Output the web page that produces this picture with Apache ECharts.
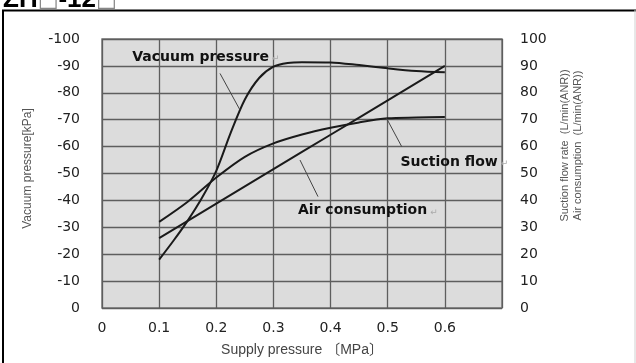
<!DOCTYPE html>
<html>
<head>
<meta charset="utf-8">
<script src="https://cdn.jsdelivr.net/npm/echarts@6/dist/echarts.min.js"></script>
<style>
  html, body { margin: 0; padding: 0; background: #ffffff; }
  #chart { width: 636px; height: 363px; }
</style>
</head>
<body>
<div id="chart"></div>
<script>
// Supply pressure (MPa) sample points for each curve
const vacuumX = [0.1, 0.125, 0.15, 0.175, 0.2, 0.225, 0.25, 0.275, 0.3, 0.325, 0.35, 0.4, 0.45, 0.5, 0.55, 0.6];
// Vacuum pressure (kPa, negative = vacuum)
const vacuumPressure = [-18, -25, -32.5, -41, -51, -65, -77.5, -85.5, -89.7, -91.1, -91.4, -91.3, -90.3, -89.1, -88.1, -87.6];

const flowX = [0.1, 0.15, 0.2, 0.25, 0.3, 0.35, 0.4, 0.45, 0.5, 0.55, 0.6];
// Suction flow rate (L/min(ANR))
const suctionFlow = [32, 39.5, 48.5, 56.2, 61.2, 64.5, 67, 69, 70.5, 70.8, 71];

const airX = [0.1, 0.2, 0.3, 0.4, 0.5, 0.6];
// Air consumption (L/min(ANR))
const airConsumption = [26, 38.8, 51.6, 64.4, 77.2, 90];

// Axis ranges / ticks
const xTicks = { min: 0, max: 0.7, step: 0.1, lastLabel: 0.6 };
const vacuumTicks = { min: -100, max: 0, step: 10 };
const flowTicks = { min: 0, max: 100, step: 10 };

const pairs = (xs, ys) => xs.map((x, i) => [x, ys[i]]);

const tickFont = 'DejaVu Sans';
const lineColor = '#1a1a1a';

const chart = echarts.init(document.getElementById('chart'), null, { renderer: 'canvas' });

const noteLabel = (text) => ({
  show: true,
  position: 'right',
  distance: 0,
  formatter: '{t|' + text + '}{r|\u21B5}',
  rich: {
    t: { fontFamily: 'DejaVu Sans', fontWeight: 'bold', fontSize: 14, color: '#111' },
    r: { fontFamily: 'DejaVu Sans', fontSize: 9, color: '#aaa', padding: [4, 0, 0, 3] }
  }
});

const leader = (a, b) => [{ coord: a }, { coord: b }];

const option = {
  animation: false,
  backgroundColor: '#ffffff',
  grid: {
    left: 102, top: 39, width: 400, height: 269,
    show: true,
    backgroundColor: '#dcdcdc',
    borderColor: '#7a7a7a',
    borderWidth: 1.5
  },
  xAxis: {
    type: 'value',
    min: xTicks.min, max: xTicks.max, interval: xTicks.step,
    axisLine: { show: false },
    axisTick: { show: false },
    splitLine: { show: true, lineStyle: { color: '#5e5e5e', width: 1.3 } },
    axisLabel: {
      margin: 13,
      fontFamily: tickFont, fontSize: 14, color: '#222',
      formatter: v => (v > xTicks.lastLabel + 0.05 ? '' : String(+v.toFixed(1)))
    },
    name: 'Supply pressure \u3014MPa\u3015',
    nameLocation: 'middle',
    nameGap: 35,
    nameTextStyle: { fontFamily: 'Liberation Sans, Noto Sans CJK JP', fontSize: 14, color: '#444' }
  },
  yAxis: [
    {
      type: 'value',
      position: 'left',
      min: vacuumTicks.min, max: vacuumTicks.max, interval: vacuumTicks.step,
      inverse: true,
      axisLine: { show: false },
      axisTick: { show: false },
      splitLine: { show: true, lineStyle: { color: '#5e5e5e', width: 1.3 } },
      axisLabel: { margin: 22, fontFamily: tickFont, fontSize: 14, color: '#222' },
      name: 'Vacuum pressure[kPa]',
      nameLocation: 'middle',
      nameRotate: 90,
      nameGap: 68,
      nameTextStyle: { fontFamily: 'Liberation Sans', fontSize: 12, color: '#555', padding: [0, 0, 0, 10] }
    },
    {
      type: 'value',
      position: 'right',
      min: flowTicks.min, max: flowTicks.max, interval: flowTicks.step,
      axisLine: { show: false },
      axisTick: { show: false },
      splitLine: { show: false },
      axisLabel: { margin: 18, fontFamily: tickFont, fontSize: 14, color: '#222' },
      name: 'Suction flow rate  (L/min(ANR))\nAir consumption  (L/min(ANR))',
      nameLocation: 'middle',
      nameRotate: 90,
      nameGap: 56,
      nameTextStyle: { fontFamily: 'Liberation Sans', fontSize: 11, lineHeight: 13, color: '#555', padding: [0, 0, 0, 56] }
    }
  ],
  series: [
    {
      name: 'Vacuum pressure',
      type: 'line',
      yAxisIndex: 0,
      data: pairs(vacuumX, vacuumPressure),
      smooth: 0.3,
      showSymbol: false,
      lineStyle: { color: lineColor, width: 2 },
      markLine: {
        silent: true, symbol: 'none',
        lineStyle: { color: '#444', width: 1, type: 'solid' },
        label: { show: false },
        data: [leader([0.2065, -87.2], [0.241, -73.8])]
      },
      markPoint: {
        symbol: 'circle', symbolSize: 1,
        itemStyle: { color: 'rgba(0,0,0,0)' },
        data: [{ coord: [0.052, -93.3], label: noteLabel('Vacuum pressure') }]
      }
    },
    {
      name: 'Suction flow',
      type: 'line',
      yAxisIndex: 1,
      data: pairs(flowX, suctionFlow),
      smooth: 0.3,
      showSymbol: false,
      lineStyle: { color: lineColor, width: 2 },
      markLine: {
        silent: true, symbol: 'none',
        lineStyle: { color: '#444', width: 1, type: 'solid' },
        label: { show: false },
        data: [leader([0.498, 70.5], [0.5245, 60])]
      },
      markPoint: {
        symbol: 'circle', symbolSize: 1,
        itemStyle: { color: 'rgba(0,0,0,0)' },
        data: [{ coord: [0.5215, 54.3], label: noteLabel('Suction flow') }]
      }
    },
    {
      name: 'Air consumption',
      type: 'line',
      yAxisIndex: 1,
      data: pairs(airX, airConsumption),
      smooth: 0.2,
      showSymbol: false,
      lineStyle: { color: lineColor, width: 2 },
      markLine: {
        silent: true, symbol: 'none',
        lineStyle: { color: '#444', width: 1, type: 'solid' },
        label: { show: false },
        data: [leader([0.3465, 55.0], [0.378, 41.4])]
      },
      markPoint: {
        symbol: 'circle', symbolSize: 1,
        itemStyle: { color: 'rgba(0,0,0,0)' },
        data: [{ coord: [0.342, 36.2], label: noteLabel('Air consumption') }]
      }
    }
  ],
  graphic: [
    // page frame
    { type: 'polyline', silent: true, shape: { points: [[3, 363], [3, 10.5], [636, 10.5]] },
      style: { stroke: '#000', lineWidth: 2, fill: null } },
    { type: 'line', silent: true, shape: { x1: 635, y1: 10, x2: 635, y2: 363 },
      style: { stroke: '#d0d0d0', lineWidth: 1 } },
    // model heading, clipped at the top edge
    {
      type: 'text', left: 3, top: -13, silent: true,
      style: {
        text: '{a|ZH}{b|\u25A1}{a|-12}{b|\u25A1}',
        rich: {
          a: { fontFamily: 'Liberation Sans', fontWeight: 'bold', fontSize: 26, fill: '#000' },
          b: { fontFamily: 'DejaVu Sans', fontSize: 22, fill: '#888' }
        }
      }
    }
  ]
};

chart.setOption(option);
</script>
</body>
</html>
